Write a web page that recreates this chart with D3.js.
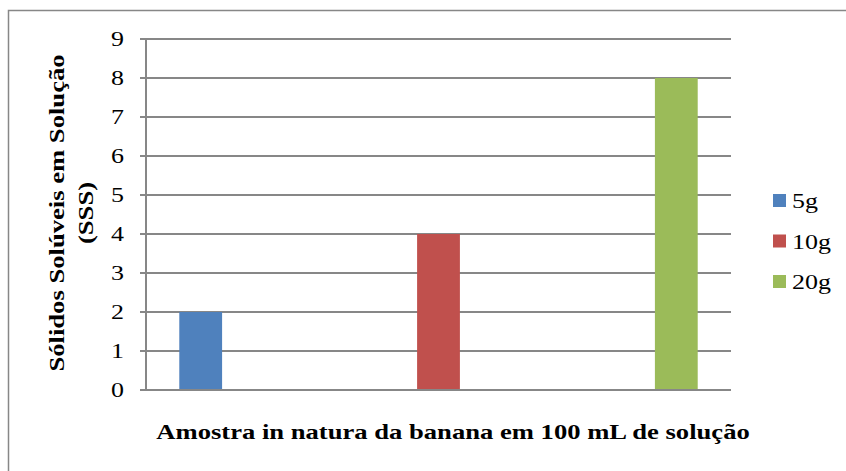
<!DOCTYPE html>
<html>
<head>
<meta charset="utf-8">
<script src="https://cdn.jsdelivr.net/npm/d3@7"></script>
<style>
  body { margin: 0; background: #fff; }
  svg { display: block; font-family: "Liberation Serif", "Times New Roman", serif; }
</style>
</head>
<body>
<svg id="chart" width="846" height="471"></svg>
<script>
// series shown as separate bars of a single category
const seriesNames = ["5g", "10g", "20g"];
const seriesValues = [2, 4, 8];
const seriesColors = ["#4F81BD", "#C0504D", "#9BBB59"];
const yTicks = [0, 1, 2, 3, 4, 5, 6, 7, 8, 9];
const yTitle = ["Sólidos Solúveis em Solução", "(SSS)"];
const xTitle = "Amostra in natura da banana em 100 mL de solução";

const svg = d3.select("#chart");
const grid = "#878787";
const stretch = 1.18;      // source text is drawn a little wider than Liberation Serif
const titleStretch = 1.21;

// outer frame (clipped at right and bottom like the source)
svg.append("rect")
  .attr("x", 8.5).attr("y", 10.5)
  .attr("width", 860).attr("height", 480)
  .attr("fill", "none")
  .attr("stroke", grid)
  .attr("stroke-width", 1.5);

const plot = { left: 146, right: 731, top: 39, bottom: 390 };

const y = d3.scaleLinear().domain([0, 9]).range([plot.bottom, plot.top]);
const x = d3.scaleBand()
  .domain(seriesNames)
  .range([plot.left, plot.right])
  .paddingInner(0.82)
  .paddingOuter(0.14);

// gridlines
svg.append("g")
  .selectAll("line")
  .data(yTicks)
  .join("line")
  .attr("x1", plot.left - 6)
  .attr("x2", plot.right)
  .attr("y1", d => y(d))
  .attr("y2", d => y(d))
  .attr("stroke", grid)
  .attr("stroke-width", 2);

// y axis line
svg.append("line")
  .attr("x1", plot.left).attr("x2", plot.left)
  .attr("y1", plot.top).attr("y2", plot.bottom)
  .attr("stroke", grid)
  .attr("stroke-width", 2);

// tick labels
svg.append("g")
  .selectAll("text")
  .data(yTicks)
  .join("text")
  .attr("transform", d => `translate(124,${y(d)}) scale(${stretch},1)`)
  .attr("dy", "0.34em")
  .attr("text-anchor", "end")
  .style("font-size", "22px")
  .style("fill", "#000")
  .text(d => d);

// bars
svg.append("g")
  .selectAll("rect")
  .data(seriesValues)
  .join("rect")
  .attr("x", (d, i) => x(seriesNames[i]))
  .attr("width", x.bandwidth())
  .attr("y", d => y(d))
  .attr("height", d => y(0) - y(d))
  .attr("fill", (d, i) => seriesColors[i]);

// redraw baseline over bars
svg.append("line")
  .attr("x1", plot.left - 6).attr("x2", plot.right)
  .attr("y1", y(0)).attr("y2", y(0))
  .attr("stroke", grid)
  .attr("stroke-width", 2);

// legend
const legend = svg.append("g")
  .selectAll("g")
  .data(seriesNames)
  .join("g")
  .attr("transform", (d, i) => `translate(773,${201 + i * 40.5})`);

legend.append("rect")
  .attr("x", 0).attr("y", -7)
  .attr("width", 13).attr("height", 13)
  .attr("fill", (d, i) => seriesColors[i]);

legend.append("text")
  .attr("transform", `translate(19,0) scale(${stretch},1)`)
  .attr("dy", "0.34em")
  .style("font-size", "22px")
  .style("fill", "#000")
  .text(d => d);

// axis titles
svg.append("g")
  .attr("transform", `translate(64,213) rotate(-90) scale(${titleStretch},1)`)
  .selectAll("text")
  .data(yTitle)
  .join("text")
  .attr("x", 0)
  .attr("y", (d, i) => i * 29)
  .attr("text-anchor", "middle")
  .style("font-size", "22px")
  .style("font-weight", "bold")
  .style("fill", "#000")
  .text(d => d);

svg.append("text")
  .attr("transform", `translate(453,439) scale(${titleStretch},1)`)
  .attr("text-anchor", "middle")
  .style("font-size", "22px")
  .style("font-weight", "bold")
  .style("fill", "#000")
  .text(xTitle);
</script>
</body>
</html>
